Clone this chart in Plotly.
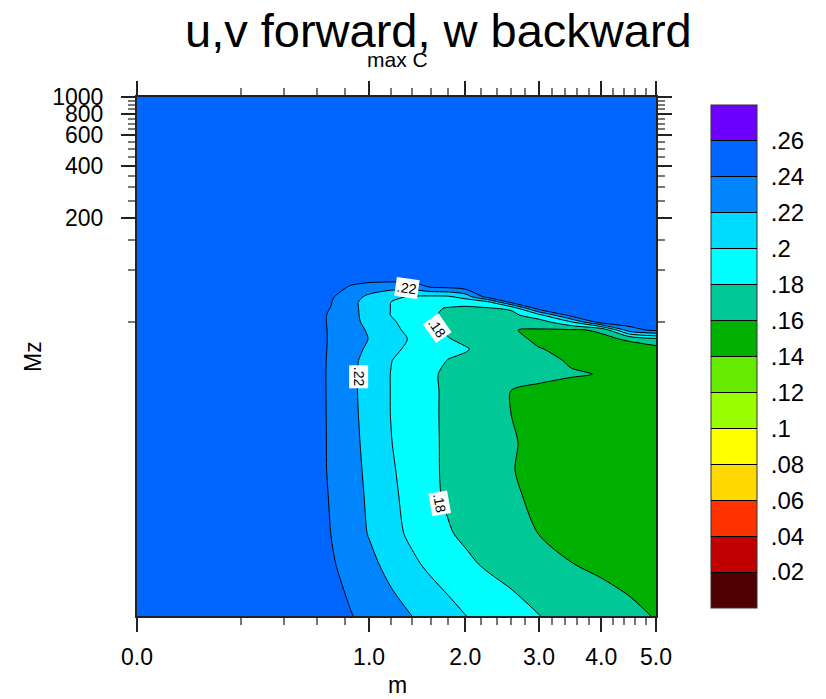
import numpy as np
import plotly.graph_objects as go

# ---------------- data ----------------
m_values = [0.0, 0.5, 0.7, 0.85, 1.0, 1.2, 1.4, 1.6, 1.8, 2.0, 2.3, 2.6, 3.0, 3.5, 4.0, 4.5, 5.0]
mz_values = [1, 2, 3, 5, 7, 10, 15, 20, 25, 30, 35, 40, 45, 50, 55, 60, 65, 70, 80, 90, 100, 1000]

# max C, one row per Mz value, one column per m value
max_c = [
    [.250, .250, .2444, .2407, .2351, .2273, .2201, .2132, .2068, .2003, .1940, .1879, .1803, .1745, .1692, .1642, .1590],
    [.250, .250, .2419, .2337, .2249, .2139, .2037, .1959, .1895, .1835, .1771, .1726, .1669, .1603, .1566, .1532, .1500],
    [.250, .250, .2398, .2289, .2189, .2061, .1962, .1886, .1814, .1769, .1712, .1659, .1597, .1559, .1524, .1491, .1460],
    [.250, .250, .2389, .2274, .2171, .2039, .1932, .1837, .1774, .1732, .1673, .1617, .1574, .1534, .1497, .1463, .1430],
    [.250, .250, .2382, .2265, .2158, .2022, .1921, .1830, .1770, .1726, .1663, .1605, .1567, .1527, .1489, .1453, .1420],
    [.250, .250, .2381, .2256, .2144, .2004, .1913, .1828, .1771, .1728, .1667, .1610, .1569, .1528, .1490, .1454, .1420],
    [.250, .250, .2380, .2247, .2131, .1994, .1908, .1827, .1769, .1724, .1659, .1599, .1565, .1525, .1488, .1453, .1420],
    [.250, .250, .2379, .2241, .2127, .1994, .1908, .1827, .1770, .1725, .1661, .1598, .1555, .1550, .1540, .1500, .1470],
    [.250, .250, .2379, .2241, .2127, .1994, .1902, .1815, .1780, .1757, .1725, .1694, .1656, .1612, .1595, .1530, .1500],
    [.250, .250, .2380, .2247, .2135, .2004, .1926, .1854, .1794, .1766, .1725, .1688, .1641, .1585, .1560, .1530, .1500],
    [.250, .250, .2383, .2269, .2167, .2043, .1959, .1898, .1841, .1815, .1730, .1674, .1605, .1570, .1550, .1540, .1520],
    [.250, .250, .2385, .2285, .2195, .2080, .1979, .1890, .1807, .1760, .1696, .1637, .1575, .1555, .1570, .1620, .1770],
    [.250, .250, .2384, .2276, .2178, .2054, .1944, .1844, .1774, .1726, .1659, .1605, .1585, .1580, .1620, .2320, .2450],
    [.250, .250, .2381, .2256, .2150, .2026, .1924, .1831, .1770, .1710, .1665, .1635, .1700, .1980, .2500, .2500, .2500],
    [.250, .250, .2382, .2252, .2135, .1994, .1908, .1827, .1760, .1730, .1720, .1740, .1950, .2500, .2500, .2500, .2500],
    [.250, .250, .2395, .2250, .2131, .1995, .1917, .1844, .1780, .1775, .1785, .1830, .2500, .2500, .2500, .2500, .2500],
    [.250, .250, .2405, .2248, .2127, .1996, .1950, .1930, .1900, .1850, .1950, .2430, .2500, .2500, .2500, .2500, .2500],
    [.250, .250, .2422, .2283, .2159, .2045, .1980, .1960, .1970, .2080, .2500, .2500, .2500, .2500, .2500, .2500, .2500],
    [.250, .250, .2500, .2380, .2310, .2280, .2290, .2420, .2450, .2500, .2500, .2500, .2500, .2500, .2500, .2500, .2500],
    [.250, .250, .2500, .2500, .2500, .2500, .2500, .2500, .2500, .2500, .2500, .2500, .2500, .2500, .2500, .2500, .2500],
    [.250, .250, .2500, .2500, .2500, .2500, .2500, .2500, .2500, .2500, .2500, .2500, .2500, .2500, .2500, .2500, .2500],
    [.250, .250, .2500, .2500, .2500, .2500, .2500, .2500, .2500, .2500, .2500, .2500, .2500, .2500, .2500, .2500, .2500],
]

contour_levels = [0.02, 0.04, 0.06, 0.08, 0.10, 0.12, 0.14, 0.16, 0.18, 0.20, 0.22, 0.24, 0.26]
level_text = [".02", ".04", ".06", ".08", ".1", ".12", ".14", ".16", ".18", ".2", ".22", ".24", ".26"]
band_colors = ["#500000", "#C00000", "#FF3300", "#FFD800", "#FFFF00", "#99FF00", "#64EB00",
               "#00B000", "#00C896", "#00FFFF", "#00DCFF", "#0085FF", "#0066FF", "#6E00FF"]

x_major = [0, 1, 2, 3, 4, 5]
x_major_text = ["0.0", "1.0", "2.0", "3.0", "4.0", "5.0"]
x_minor = [0.2, 0.4, 0.6, 0.8, 1.2, 1.4, 1.6, 1.8, 2.2, 2.4, 2.6, 2.8,
           3.2, 3.4, 3.6, 3.8, 4.2, 4.4, 4.6, 4.8]
y_major = [200, 400, 600, 800, 1000]
y_major_text = ["200", "400", "600", "800", "1000"]
y_minor = [50, 100, 150, 250, 300, 350, 450, 500, 550, 650, 700, 750, 850, 900, 950]

label_m = [1.35, 0.91, 1.67, 1.70]
label_mz = [79, 24, 46, 4.5]
label_text = [".22", ".22", ".18", ".18"]
label_angle = [8, 90, 55, 80]

# ---------------- figure ----------------
FONT = "Liberation Sans, Arial, Helvetica, sans-serif"
W, H = 826, 699
L, R, T, B = 137, 170, 97, 83
PW = W - L - R
PH = H - T - B


def px_x(p):
    return (p - L) / PW


def px_y(p):
    return (H - B - p) / PH


xs = np.sqrt(np.array(m_values))
ys = np.log10(np.array(mz_values, dtype=float))

step = contour_levels[1] - contour_levels[0]
n = len(band_colors) - 1
contour_scale = [[k / n, c] for k, c in enumerate(band_colors)]

# stepped scale for the colour bar: one full band per interval, 0 .. 0.28
nb = len(band_colors)
bar_min = contour_levels[0] - step
bar_max = contour_levels[-1] + step
bar_scale = []
for k, c in enumerate(band_colors):
    bar_scale.append([k / nb, c])
    bar_scale.append([(k + 1) / nb, c])

CB_GEOM = dict(thicknessmode="pixels", thickness=46, lenmode="pixels", len=503,
               x=px_x(711), xanchor="left", xpad=0,
               y=px_y(356.5), yanchor="middle", ypad=0,
               tickmode="array", tickvals=contour_levels)

fig = go.Figure()
fig.add_trace(go.Contour(
    x=xs, y=ys, z=max_c,
    contours=dict(start=contour_levels[0], end=contour_levels[-1], size=step,
                  coloring="fill", showlines=True),
    line=dict(color="black", width=1, smoothing=0.8),
    colorscale=contour_scale,
    showscale=False,
    hoverinfo="skip",
))

# colour bar (bands + labels), the trace itself sits outside the visible range
fig.add_trace(go.Heatmap(
    x=[10, 11], y=[0, 1], z=[[bar_min, bar_max], [bar_min, bar_max]],
    zmin=bar_min, zmax=bar_max, colorscale=bar_scale, hoverinfo="skip",
    colorbar=dict(**CB_GEOM, ticktext=level_text,
                  outlinewidth=1, outlinecolor="#333",
                  ticks="outside", ticklen=9, tickcolor="rgba(0,0,0,0)",
                  tickfont=dict(family=FONT, size=24, color="black")),
))
# separator lines of the colour bar
fig.add_trace(go.Heatmap(
    x=[10, 11], y=[0, 1], z=[[bar_min, bar_max], [bar_min, bar_max]],
    zmin=bar_min, zmax=bar_max,
    colorscale=[[0, "rgba(0,0,0,0)"], [1, "rgba(0,0,0,0)"]], hoverinfo="skip",
    colorbar=dict(**CB_GEOM, showticklabels=False, outlinewidth=0,
                  ticks="inside", ticklen=46, tickwidth=1, tickcolor="black"),
))

axis_common = dict(
    showgrid=False, zeroline=False, showline=True, linecolor="#222", linewidth=2,
    ticks="outside", ticklen=14, tickwidth=2, tickcolor="#222", mirror="ticks",
)

fig.update_xaxes(
    range=[0, float(np.sqrt(5))], tickmode="array",
    tickvals=np.sqrt(np.array(x_major, dtype=float)), ticktext=x_major_text,
    minor=dict(tickmode="array", tickvals=np.sqrt(np.array(x_minor)), ticks="outside",
               ticklen=7, tickwidth=1.5, tickcolor="#777", showgrid=False),
    ticklabelstandoff=5,
    tickfont=dict(family=FONT, size=23, color="black"),
    **axis_common,
)
fig.update_yaxes(
    range=[0, 3], tickmode="array",
    tickvals=np.log10(np.array(y_major, dtype=float)), ticktext=y_major_text,
    minor=dict(tickmode="array", tickvals=np.log10(np.array(y_minor, dtype=float)),
               ticks="outside", ticklen=7, tickwidth=1.5, tickcolor="#777", showgrid=False),
    ticklabelstandoff=13,
    tickfont=dict(family=FONT, size=23, color="black"),
    **axis_common,
)

annotations = [
    dict(text="u,v forward, w backward", x=px_x(438), y=px_y(31), xref="paper", yref="paper",
         showarrow=False, xanchor="center", yanchor="middle",
         font=dict(family=FONT, size=47, color="black")),
    dict(text="max C", x=px_x(397), y=px_y(59), xref="paper", yref="paper",
         showarrow=False, xanchor="center", yanchor="middle",
         font=dict(family=FONT, size=21, color="black")),
    dict(text="m", x=px_x(397), y=px_y(685), xref="paper", yref="paper",
         showarrow=False, xanchor="center", yanchor="middle",
         font=dict(family=FONT, size=23, color="black")),
    dict(text="Mz", x=px_x(33), y=px_y(357), xref="paper", yref="paper",
         showarrow=False, xanchor="center", yanchor="middle", textangle=-90,
         font=dict(family=FONT, size=23, color="black")),
]
for lm, lz, lt, la in zip(label_m, label_mz, label_text, label_angle):
    annotations.append(dict(
        text=lt, x=float(np.sqrt(lm)), y=float(np.log10(lz)), xref="x", yref="y",
        showarrow=False, textangle=la, bgcolor="white", borderpad=1,
        font=dict(family=FONT, size=14, color="black")))

fig.update_layout(
    width=W, height=H,
    margin=dict(l=L, r=R, t=T, b=B),
    paper_bgcolor="white", plot_bgcolor="white",
    showlegend=False,
    annotations=annotations,
)

fig.write_html("out.html")
